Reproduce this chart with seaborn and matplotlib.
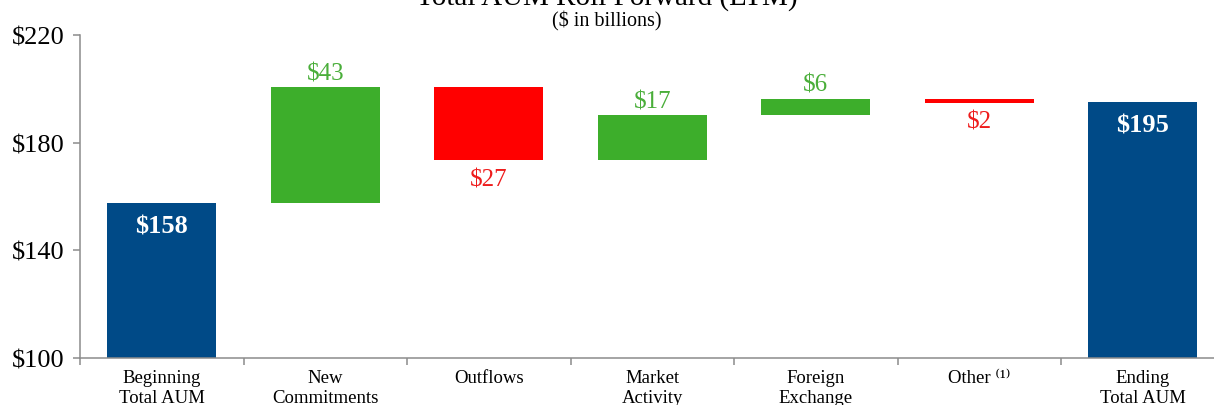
import matplotlib
matplotlib.use("Agg")
import matplotlib.pyplot as plt
import seaborn as sns
import numpy as np
from matplotlib.ticker import FixedLocator, FuncFormatter

# ---- data ----
categories = ["Beginning\nTotal AUM", "New\nCommitments", "Outflows", "Market\nActivity",
              "Foreign\nExchange", "Other \u207d\u00b9\u207e", "Ending\nTotal AUM"]
begin_total = 157.6
changes = [43.0, -27.2, 16.7, 6.3, -1.5]
end_total = 195.1
value_labels = ["$158", "$43", "$27", "$17", "$6", "$2", "$195"]
y_ticks = [100, 140, 180, 220]

# ---- derived waterfall geometry ----
bottoms, heights, kinds = [0.0], [begin_total], ["total"]
level = begin_total
for c in changes:
    if c >= 0:
        bottoms.append(level); heights.append(c); kinds.append("up")
    else:
        bottoms.append(level + c); heights.append(-c); kinds.append("down")
    level += c
bottoms.append(0.0); heights.append(end_total); kinds.append("total")

bar_colors = {"total": "#004A87", "up": "#3DAE2B", "down": "#FF0000"}
text_colors = {"total": "white", "up": "#4AAE3A", "down": "#EE1C1C"}

sns.set_theme(style="white")
plt.rcParams["font.family"] = ["Liberation Serif", "DejaVu Serif"]

fig = plt.figure(figsize=(12.14, 4.06), dpi=100)
ax = fig.add_axes([80 / 1214, 47.0 / 406, 1144.5 / 1214, 323.0 / 406])

sns.barplot(x=categories, y=heights, bottom=bottoms, width=0.667,
            color=bar_colors["total"], ax=ax, saturation=1)
for patch, k in zip(ax.patches, kinds):
    patch.set_facecolor(bar_colors[k])
    patch.set_edgecolor("none")

ax.set_ylim(100, 220)
ax.set_xlim(-0.5, len(categories) - 0.5)

# value labels
for i, (b, h, k, lab) in enumerate(zip(bottoms, heights, kinds, value_labels)):
    txt = lab.replace("$", r"\$")
    if k == "up":
        ax.annotate(txt, (i, b + h), xytext=(0, 2), textcoords="offset points",
                    ha="center", va="bottom", fontsize=18, color=text_colors[k])
    elif k == "down":
        ax.annotate(txt, (i, b), xytext=(0, -6), textcoords="offset points",
                    ha="center", va="top", fontsize=18, color=text_colors[k])
    else:
        ax.annotate(txt, (i, b + h), xytext=(0, -8), textcoords="offset points",
                    ha="center", va="top", fontsize=19, color=text_colors[k],
                    fontweight="bold")

# axes styling
for s in ["top", "right"]:
    ax.spines[s].set_visible(False)
for s in ["left", "bottom"]:
    ax.spines[s].set_color("#8C8C8C")
    ax.spines[s].set_linewidth(1.1)

ax.yaxis.set_major_locator(FixedLocator(y_ticks))
ax.yaxis.set_major_formatter(FuncFormatter(lambda v, p: r"\$%d" % v))
ax.tick_params(axis="y", which="major", left=True, length=5, width=1.1,
               color="#8C8C8C", labelsize=19, pad=6, labelcolor="black")
ax.tick_params(axis="x", which="major", bottom=False, length=0, labelsize=13.5,
               pad=8, labelcolor="black")
ax.xaxis.set_minor_locator(FixedLocator(np.arange(-0.5, len(categories), 1.0)))
ax.tick_params(axis="x", which="minor", bottom=True, length=5, width=1.1,
               color="#8C8C8C")
for t in ax.get_xticklabels():
    t.set_linespacing(1.25)
ax.set_xlabel("")
ax.set_ylabel("")

fig.text(0.5, 1 - 5 / 406, "Total AUM Roll Forward (LTM)", ha="center",
         va="baseline", fontsize=21, color="black")
fig.text(0.5, 1 - 21 / 406, r"(\$ in billions)", ha="center", va="center",
         fontsize=14.5, color="black")

fig.savefig("out.png", dpi=100)
